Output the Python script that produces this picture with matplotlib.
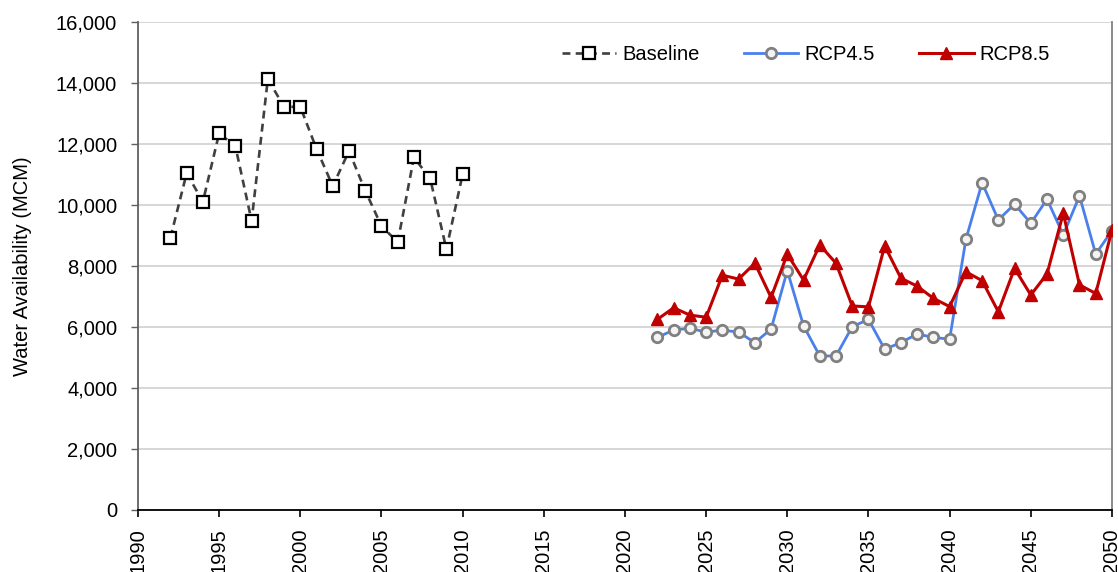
import matplotlib
matplotlib.use("Agg")
import matplotlib.pyplot as plt
from matplotlib.ticker import FuncFormatter, MultipleLocator

plt.rcParams['font.family'] = ['Liberation Sans', 'DejaVu Sans']

base_years = list(range(1992, 2011))
base_vals = [8930, 11040, 10110, 12350, 11930, 9480, 14130, 13220, 13220, 11840,
             10620, 11770, 10470, 9310, 8780, 11560, 10870, 8550, 11010]

rcp_years = list(range(2022, 2051))
rcp45_vals = [5660, 5900, 5960, 5830, 5900, 5830, 5490, 5930, 7850, 6040,
              5050, 5050, 6010, 6250, 5270, 5490, 5770, 5660, 5600, 8870,
              10730, 9510, 10030, 9400, 10190, 9020, 10300, 8390, 9160]
rcp85_vals = [6250, 6630, 6390, 6320, 7700, 7570, 8090, 6970, 8390, 7540,
              8690, 8090, 6690, 6660, 8660, 7600, 7340, 6940, 6670, 7810,
              7520, 6500, 7920, 7050, 7740, 9730, 7380, 7100, 9180]

fig = plt.figure(figsize=(11.18, 5.72), dpi=100)
ax = fig.add_axes([0.1234, 0.1084, 0.8712, 0.8531])

ax.plot(base_years, base_vals, linestyle=(0, (3, 2)), color='#404040', lw=1.9,
        marker='s', markersize=9, markerfacecolor='white', markeredgecolor='black',
        markeredgewidth=1.6, label='Baseline', zorder=3)
ax.plot(rcp_years, rcp45_vals, color='#4a80ec', lw=2.0,
        marker='o', markersize=7.5, markerfacecolor='#f4f4f4', markeredgecolor='#808080',
        markeredgewidth=2.0, label='RCP4.5', zorder=3)
ax.plot(rcp_years, rcp85_vals, color='#c00000', lw=2.2,
        marker='^', markersize=9, markerfacecolor='#c00000', markeredgecolor='#c00000',
        label='RCP8.5', zorder=4)

ax.set_xlim(1990, 2050)
ax.set_ylim(0, 16000)
ax.xaxis.set_major_locator(MultipleLocator(5))
ax.yaxis.set_major_locator(MultipleLocator(2000))
ax.yaxis.set_major_formatter(FuncFormatter(lambda v, p: f"{int(v):,}"))
ax.grid(axis='y', color='#d0d0d0', lw=1.2)
ax.set_axisbelow(True)

ax.tick_params(axis='x', labelsize=14.5, direction='out', length=5, width=1.2, pad=8, labelrotation=90)
ax.tick_params(axis='y', labelsize=14.5, direction='out', length=5, width=1.0, color='#606060', pad=10)

ax.spines['top'].set_visible(False)
ax.spines['left'].set_color('#606060')
ax.spines['left'].set_linewidth(1.3)
ax.spines['right'].set_color('#808080')
ax.spines['right'].set_linewidth(1.3)
ax.spines['bottom'].set_color('black')
ax.spines['bottom'].set_linewidth(1.3)

ax.set_ylabel('Water Availability (MCM)', fontsize=14.5, labelpad=17)

ax.legend(loc='upper right', bbox_to_anchor=(0.955, 0.99), ncol=3, frameon=False,
          fontsize=14.5, handlelength=2.7, columnspacing=2.2, handletextpad=0.3)

fig.savefig('out.png', dpi=100)
